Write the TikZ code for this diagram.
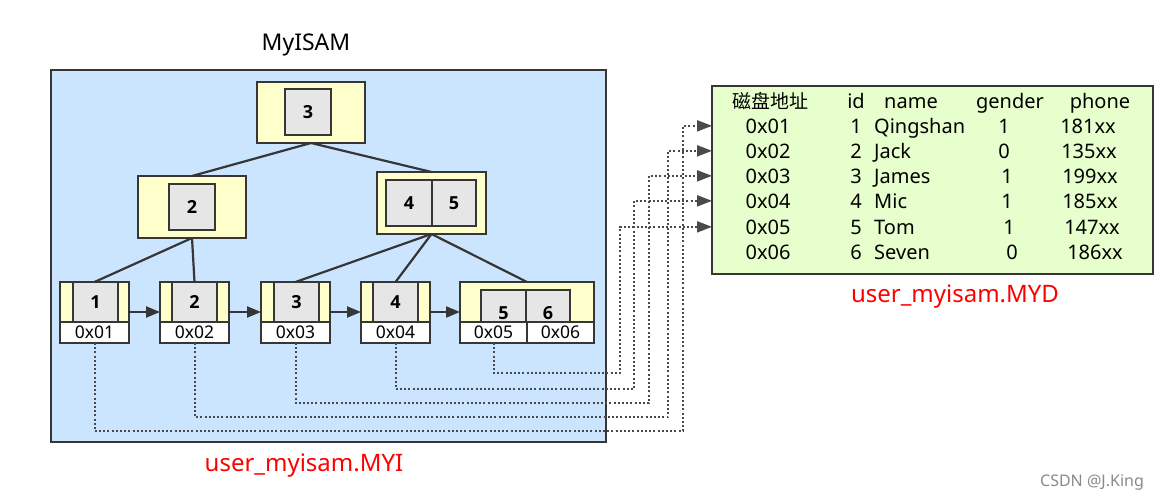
\documentclass[tikz,border=0pt]{standalone}
\usepackage{fontspec}
\setmainfont{Noto Sans}
\newfontfamily\cjk{Noto Sans CJK SC}
\newfontfamily\numfont{Open Sans}
\usetikzlibrary{arrows.meta,calc}
\definecolor{bluefill}{HTML}{CCE5FF}
\definecolor{yelfill}{HTML}{FFFFCC}
\definecolor{grayfill}{HTML}{E6E6E6}
\definecolor{greenfill}{HTML}{E6FFCC}
\definecolor{bordercol}{HTML}{363636}
\definecolor{dotcol}{HTML}{4A4A4A}
\definecolor{redtext}{HTML}{FF0000}
\definecolor{wmgray}{HTML}{8A8A8A}
\begin{document}
\begin{tikzpicture}[x=1pt,y=-1pt,
  box/.style={draw=bordercol, line width=2.2pt, inner sep=0pt, outer sep=0pt},
  yel/.style={box, fill=yelfill},
  gry/.style={box, fill=grayfill, font=\fontsize{18}{18}\numfont\bfseries},
  numtxt/.style={inner sep=0pt, font=\fontsize{18}{18}\numfont\bfseries},
  addr/.style={box, fill=white, minimum height=21pt, font=\fontsize{17.5}{17.5}\selectfont},
  tedge/.style={draw=bordercol, line width=2.2pt},
  larrow/.style={tedge, -{Triangle[length=14pt,width=11pt]}},
  dotl/.style={draw=dotcol, line width=2pt, dash pattern=on 2pt off 2.2pt, -{Triangle[length=15pt,width=11pt]}},
  ttxt/.style={inner sep=0pt, anchor=base, font=\fontsize{20}{20}\selectfont},
  redlbl/.style={inner sep=0pt, text=redtext, font=\fontsize{24}{24}\selectfont}
]
\useasboundingbox (0,0) rectangle (1169,503);
\fill[white] (0,0) rectangle (1169,503);

% MYI container
\node[box, fill=bluefill, minimum width=555pt, minimum height=372pt, anchor=north west] (myi) at (51,70) {};
\node[inner sep=0pt, font=\fontsize{23}{23}\selectfont] (title) at (306,45) {MyISAM};

% root
\node[yel, minimum width=108pt, minimum height=61pt] (root) at (311,112.5) {};
\node[gry, minimum width=46pt, minimum height=46pt] (k3) at (308,112) {3};

% level 2
\node[yel, minimum width=108pt, minimum height=62pt] (nl) at (192,207) {};
\node[gry, minimum width=46pt, minimum height=46pt] (k2) at (192,207) {2};
\node[yel, minimum width=109pt, minimum height=62pt] (nr) at (431.5,203) {};
\node[gry, minimum width=46pt, minimum height=46pt] (k4) at (409,203) {4};
\node[gry, minimum width=44pt, minimum height=46pt] (k5) at (454,203) {5};

% leaves
\node[yel, minimum width=69pt, minimum height=40pt] (leaf1) at (94.5,302) {};
\node[gry, minimum width=45pt, minimum height=40pt] (g1) at (95.5,302) {1};
\node[addr, minimum width=69pt] (a1) at (94.5,332.5) {0x01};

\node[yel, minimum width=69pt, minimum height=40pt] (leaf2) at (194.5,302) {};
\node[gry, minimum width=45pt, minimum height=40pt] (g2) at (194.5,302) {2};
\node[addr, minimum width=69pt] (a2) at (194.5,332.5) {0x02};

\node[yel, minimum width=69pt, minimum height=40pt] (leaf3) at (295.5,302) {};
\node[gry, minimum width=45pt, minimum height=40pt] (g3) at (296.5,302) {3};
\node[addr, minimum width=69pt] (a3) at (295.5,332.5) {0x03};

\node[yel, minimum width=69pt, minimum height=40pt] (leaf4) at (395.5,302) {};
\node[gry, minimum width=45pt, minimum height=40pt] (g4) at (395.5,302) {4};
\node[addr, minimum width=69pt] (a4) at (395.5,332.5) {0x04};

\node[yel, minimum width=134pt, minimum height=40pt] (leaf5) at (527,302) {};
\node[gry, minimum width=45pt, minimum height=32pt] (g5) at (503.5,306) {};
\node[gry, minimum width=44pt, minimum height=32pt] (g6) at (548,306) {};
\node[numtxt] (n5) at (503.5,313) {5};
\node[numtxt] (n6) at (548,313) {6};
\node[addr, minimum width=67pt] (a5) at (493.5,332.5) {0x05};
\node[addr, minimum width=67pt] (a6) at (560.5,332.5) {0x06};

% tree edges
\draw[tedge] (root.south) -- (nl.north);
\draw[tedge] (root.south) -- (nr.north);
\draw[tedge] (nl.south) -- (leaf1.north);
\draw[tedge] (nl.south) -- (leaf2.north);
\draw[tedge] (nr.south) -- (leaf3.north);
\draw[tedge] (nr.south) -- (leaf4.north);
\draw[tedge] (nr.south) -- (leaf5.north);

% leaf links
\draw[larrow] ([yshift=-10pt]leaf1.east) -- ([yshift=-10pt]leaf2.west);
\draw[larrow] ([yshift=-10pt]leaf2.east) -- ([yshift=-10pt]leaf3.west);
\draw[larrow] ([yshift=-10pt]leaf3.east) -- ([yshift=-10pt]leaf4.west);
\draw[larrow] ([yshift=-10pt]leaf4.east) -- ([yshift=-10pt]leaf5.west);

% MYD table
\node[box, fill=greenfill, minimum width=441pt, minimum height=188pt, anchor=north west] (tbl) at (712,86) {};

\node[ttxt, font=\fontsize{19}{19}\selectfont\cjk] (h0) at (770,108) {磁盘地址};
\node[ttxt] (h1) at (856,108) {id};
\node[ttxt] (h2) at (911,108) {name};
\node[ttxt] (h3) at (1010,108) {gender};
\node[ttxt] (h4) at (1100,108) {phone};

\node[ttxt] (t1) at (768,133) {0x01};
\node[ttxt] (i1) at (856,133) {1};
\node[ttxt, anchor=base west] (m1) at (874,133) {Qingshan};
\node[ttxt] (s1) at (1004,133) {1};
\node[ttxt] (p1) at (1088,133) {181xx};

\node[ttxt] (t2) at (768,158) {0x02};
\node[ttxt] (i2) at (856,158) {2};
\node[ttxt, anchor=base west] (m2) at (874,158) {Jack};
\node[ttxt] (s2) at (1004,158) {0};
\node[ttxt] (p2) at (1089,158) {135xx};

\node[ttxt] (t3) at (768,183) {0x03};
\node[ttxt] (i3) at (856,183) {3};
\node[ttxt, anchor=base west] (m3) at (874,183) {James};
\node[ttxt] (s3) at (1007,183) {1};
\node[ttxt] (p3) at (1090,183) {199xx};

\node[ttxt] (t4) at (768,208) {0x04};
\node[ttxt] (i4) at (856,208) {4};
\node[ttxt, anchor=base west] (m4) at (874,208) {Mic};
\node[ttxt] (s4) at (1007,208) {1};
\node[ttxt] (p4) at (1090,208) {185xx};

\node[ttxt] (t5) at (768,234) {0x05};
\node[ttxt] (i5) at (856,234) {5};
\node[ttxt, anchor=base west] (m5) at (874,234) {Tom};
\node[ttxt] (s5) at (1009,234) {1};
\node[ttxt] (p5) at (1092,234) {147xx};

\node[ttxt] (t6) at (768,259) {0x06};
\node[ttxt] (i6) at (856,259) {6};
\node[ttxt, anchor=base west] (m6) at (874,259) {Seven};
\node[ttxt] (s6) at (1012,259) {0};
\node[ttxt] (p6) at (1095,259) {186xx};

% dotted pointers
\draw[dotl] (a1.south) |- (683,431) |- (tbl.west |- t1);
\draw[dotl] (a2.south) |- (668,417) |- (tbl.west |- t2);
\draw[dotl] (a3.south) |- (649,403) |- (tbl.west |- t3);
\draw[dotl] (a4.south) |- (634,389) |- (tbl.west |- t4);
\draw[dotl] (a5.south) |- (620,373) |- (tbl.west |- t5);

% labels
\node[redlbl] (lmyi) at (304,466) {user\_myisam.MYI};
\node[redlbl] (lmyd) at (955,297) {user\_myisam.MYD};
\node[inner sep=0pt, text=wmgray, font=\fontsize{16}{16}\selectfont] (csdn) at (1092,483) {CSDN @J.King};
\end{tikzpicture}
\end{document}
